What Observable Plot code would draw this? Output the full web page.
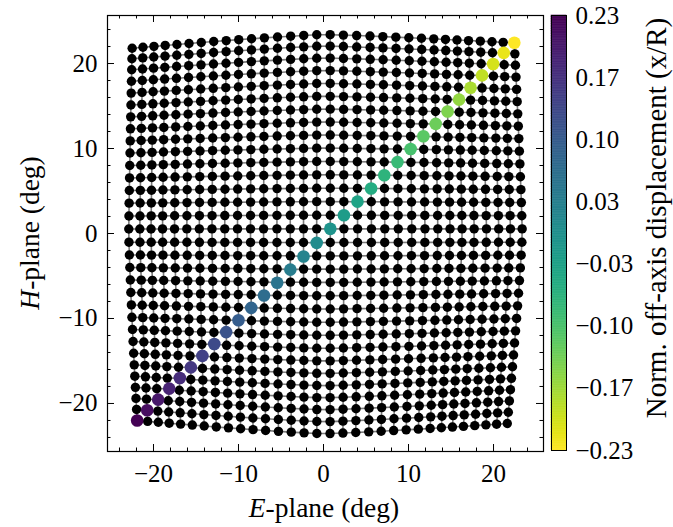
<!DOCTYPE html>
<html>
<head>
<meta charset="utf-8">
<script src="https://cdn.jsdelivr.net/npm/d3@7"></script>
<script src="https://cdn.jsdelivr.net/npm/@observablehq/plot@0.6"></script>
<style>
  body { margin: 0; background: #fff; }
  #chart { position: relative; width: 673px; height: 527px; font-family: "Liberation Serif", "Times New Roman", serif; }
  #chart svg { position: absolute; left: 0; top: 0; }
</style>
</head>
<body>
<div id="chart"></div>
<script>
// 32 x 32 beam grid: E-plane angle of each column and H-plane angle of each row,
// taken along the centre row / centre column of the array (deg)
const colE = [-22.91, -21.61, -20.29, -18.94, -17.53, -16.08, -14.61, -13.12, -11.62, -10.12,
  -8.59, -7.05, -5.48, -3.91, -2.35, -0.80, 0.80, 2.40, 4.01, 5.64, 7.21, 8.80, 10.39, 11.94,
  13.45, 14.89, 16.31, 17.73, 19.18, 20.62, 22.00, 23.38];
const rowH = [-23.56, -22.15, -20.74, -19.33, -17.91, -16.47, -15.00, -13.51, -11.99, -10.45,
  -8.89, -7.33, -5.76, -4.20, -2.64, -1.06, 0.55, 2.15, 3.75, 5.33, 6.91, 8.48, 10.05, 11.59,
  13.12, 14.64, 16.15, 17.67, 19.18, 20.65, 22.06, 23.41];

// Extra bending of the outermost beams at each corner (deg):
// order = top-left, top-right, bottom-left, bottom-right
const cornerShiftE = [0.40, -0.93, 0.99, -1.76];
const cornerShiftH = [-1.61, -0.99, 1.56, 1.21];

// Diagonal beams (row k, column k) and their normalised off-axis feed displacement
const diagE = [-21.92, -20.74, -19.45, -18.15, -16.90, -15.60, -14.25, -12.85, -11.45, -10.00,
  -8.50, -7.00, -5.45, -3.90, -2.35, -0.80, 0.80, 2.40, 4.00, 5.60, 7.15, 8.70, 10.25, 11.75,
  13.20, 14.60, 15.95, 17.30, 18.65, 19.95, 21.20, 22.45];
const diagH = [-22.00, -20.80, -19.55, -18.25, -17.00, -15.75, -14.40, -13.00, -11.60, -10.20,
  -8.75, -7.30, -5.80, -4.25, -2.70, -1.10, 0.55, 2.15, 3.75, 5.30, 6.85, 8.40, 9.95, 11.45,
  12.90, 14.35, 15.75, 17.15, 18.60, 19.95, 21.25, 22.45];
const diagDisp = [0.233, 0.218, 0.203, 0.188, 0.173, 0.158, 0.143, 0.128, 0.113, 0.098,
  0.083, 0.068, 0.053, 0.038, 0.023, 0.008, -0.008, -0.023, -0.038, -0.053, -0.068, -0.083,
  -0.098, -0.113, -0.128, -0.143, -0.158, -0.173, -0.188, -0.203, -0.218, -0.233];

// Axis ticks
const majorTicks = [-20, -10, 0, 10, 20];
const minorTicks = [-24, -22, -18, -16, -14, -12, -8, -6, -4, -2, 2, 4, 6, 8, 12, 14, 16, 18, 22, 24];
const dispTicks = [0.233, 0.1664, 0.0999, 0.0333, -0.0333, -0.0999, -0.1664, -0.233];
const dispLabels = ["0.23", "0.17", "0.10", "0.03", "\u22120.03", "\u22120.10", "\u22120.17", "\u22120.23"];

// Layout
const W = 673, Hgt = 527;
const mL = 107, mR = 130, mT = 15, mB = 76;
const innerW = W - mL - mR, innerH = Hgt - mT - mB;
const fontTick = 25, fontLabel = 27.5, fontBarLabel = 29;

// Build the beam table
const beams = [];
rowH.forEach((h, i) => colE.forEach((e, j) => {
  let E, H;
  if (i === j) {
    E = diagE[i]; H = diagH[i];
  } else {
    const s = e < 0 ? e / -colE[0] : e / colE[colE.length - 1];
    const t = h < 0 ? h / -rowH[0] : h / rowH[rowH.length - 1];
    const c = (t >= 0 ? 0 : 2) + (s >= 0 ? 1 : 0);
    const w = Math.pow(Math.abs(s) * Math.abs(t), 1.2);
    E = e + cornerShiftE[c] * w;
    H = h + cornerShiftH[c] * w;
  }
  beams.push({row: i, col: j, E, H});
}));
const diag = diagE.map((e, k) => ({E: e, H: diagH[k], disp: diagDisp[k]}));

const colorScale = {type: "linear", domain: [-0.233, 0.233], scheme: "viridis", reverse: true};
const fmt = d => (d < 0 ? "\u2212" : "") + Math.abs(d);

const main = Plot.plot({
  width: W, height: Hgt,
  marginLeft: mL, marginRight: mR, marginTop: mT, marginBottom: mB,
  style: {fontFamily: "Liberation Serif, Times New Roman, serif", color: "black", background: "white"},
  x: {domain: [-25.41, 25.88]},
  y: {domain: [-25.65, 25.65]},
  color: colorScale,
  marks: [
    Plot.line(beams, {x: "E", y: "H", z: "row", stroke: "#7a7a7a", strokeWidth: 1.6}),
    Plot.line(beams, {x: "E", y: "H", z: "col", stroke: "#7a7a7a", strokeWidth: 1.6}),
    Plot.dot(beams.filter(d => d.row !== d.col), {x: "E", y: "H", r: 4.7, fill: "black"}),
    Plot.dot(diag, {x: "E", y: "H", r: 6.3, fill: "disp"}),
    // inward ticks on all four sides
    Plot.ruleX(majorTicks, {stroke: "black", insetTop: innerH - 7}),
    Plot.ruleX(majorTicks, {stroke: "black", insetBottom: innerH - 7}),
    Plot.ruleX(minorTicks, {stroke: "black", insetTop: innerH - 3.5}),
    Plot.ruleX(minorTicks, {stroke: "black", insetBottom: innerH - 3.5}),
    Plot.ruleY(majorTicks, {stroke: "black", insetRight: innerW - 7}),
    Plot.ruleY(majorTicks, {stroke: "black", insetLeft: innerW - 7}),
    Plot.ruleY(minorTicks, {stroke: "black", insetRight: innerW - 3.5}),
    Plot.ruleY(minorTicks, {stroke: "black", insetLeft: innerW - 3.5}),
    Plot.frame({stroke: "black", strokeWidth: 1.2}),
    Plot.axisX({ticks: majorTicks, tickSize: 0, tickPadding: 13, fontSize: fontTick, label: null, tickFormat: fmt}),
    Plot.axisY({ticks: majorTicks, tickSize: 0, tickPadding: 10, fontSize: fontTick, label: null, tickFormat: fmt})
  ]
});

// Colour bar
const bandN = 256;
const bands = d3.range(bandN).map(k => {
  const y1 = -0.233 + 0.466 * k / bandN, y2 = -0.233 + 0.466 * (k + 1) / bandN;
  return {y1, y2, v: (y1 + y2) / 2};
});
const bar = Plot.plot({
  width: W, height: Hgt,
  marginLeft: 551, marginRight: W - 566, marginTop: 15, marginBottom: Hgt - 450,
  style: {fontFamily: "Liberation Serif, Times New Roman, serif", color: "black", background: "transparent"},
  x: {domain: [0, 1], axis: null},
  y: {domain: [-0.233, 0.233], axis: null},
  color: colorScale,
  marks: [
    Plot.rect(bands, {x1: 0, x2: 1, y1: "y1", y2: "y2", fill: "v", stroke: "v", strokeWidth: 0.6}),
    Plot.frame({stroke: "black", strokeWidth: 1}),
    Plot.axisY({anchor: "right", ticks: dispTicks, tickSize: 0, tickPadding: 9, fontSize: fontTick,
      label: null, tickFormat: d => dispLabels[dispTicks.indexOf(d)]})
  ]
});

const root = document.getElementById("chart");
root.appendChild(main);
root.appendChild(bar);

// Axis titles (with italic plane letters)
const svgMain = d3.select(main);
const xt = svgMain.append("text")
  .attr("x", 324).attr("y", 517)
  .attr("text-anchor", "middle")
  .attr("font-size", fontLabel).attr("fill", "black");
xt.append("tspan").attr("font-style", "italic").text("E");
xt.append("tspan").text("-plane (deg)");

const yt = svgMain.append("text")
  .attr("transform", "translate(39,233) rotate(-90)")
  .attr("text-anchor", "middle")
  .attr("font-size", fontLabel).attr("fill", "black");
yt.append("tspan").attr("font-style", "italic").text("H");
yt.append("tspan").text("-plane (deg)");

d3.select(bar).append("text")
  .attr("transform", "translate(666,218) rotate(-90)")
  .attr("text-anchor", "middle")
  .attr("font-size", fontBarLabel).attr("fill", "black")
  .text("Norm. off-axis displacement (x/R)");
</script>
</body>
</html>
